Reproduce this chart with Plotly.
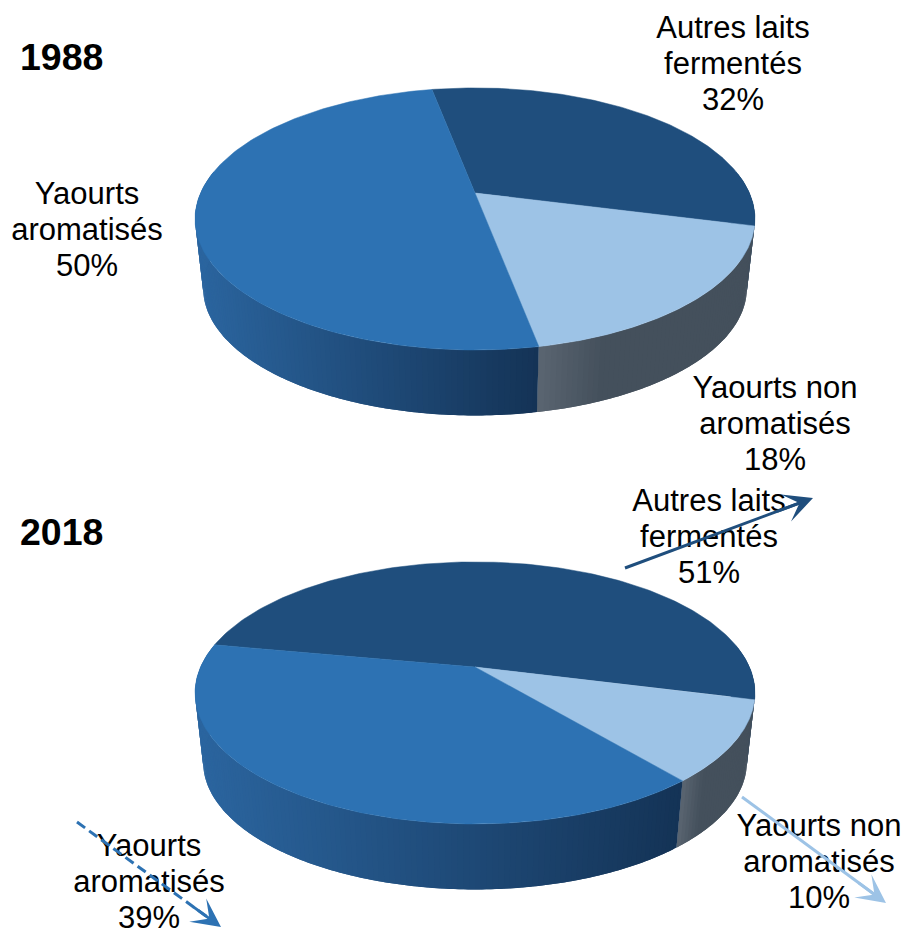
import numpy as np
import plotly.graph_objects as go

# --- data ---
years = ["1988", "2018"]
categories = ["Autres laits fermentés", "Yaourts non aromatisés", "Yaourts aromatisés"]
shares_1988 = [32, 18, 50]
shares_2018 = [51, 10, 39]
first_slice_angle_1988 = -10.8
first_slice_angle_2018 = -79.5

label_lines_1988 = [["Autres laits", "fermentés", "32%"],
                    ["Yaourts non", "aromatisés", "18%"],
                    ["Yaourts", "aromatisés", "50%"]]
label_lines_2018 = [["Autres laits", "fermentés", "51%"],
                    ["Yaourts non", "aromatisés", "10%"],
                    ["Yaourts", "aromatisés", "39%"]]

# --- style and layout ---
W, H = 908, 929
top_colors = ["#1f4e7d", "#9dc3e6", "#2d72b3"]
slice_order_back_to_front = [0, 1, 2]
wall_ramps = [((0x1f, 0x4e, 0x7d), (0x16, 0x38, 0x5c)),
              ((0x5a, 0x65, 0x71), (0x44, 0x50, 0x5c)),
              ((0x2b, 0x65, 0x9f), (0x14, 0x33, 0x56))]
wall_ramp_span = [1.0, 0.3, 1.0]   # share of the visible wall over which the shade changes
arrow_colors = ["#1f4e7d", "#9dc3e6", "#2d72b3"]
FONT = "Liberation Sans, Arial, sans-serif"
LABEL_SIZE = 31
TITLE_SIZE = 37.5
LINE_STEP = 35.7

CX = 475
VERTEX_Y = {"1988": 193, "2018": 667}
K = 0.198            # perspective strength of the tilted disc
A = 125.9            # vertical scale
B = 274.4            # horizontal scale
BOTTOM_SCALE = 0.971
BOTTOM_DROP = 70

label_pos = {"1988": [(733, 30.5), (775, 390.5), (87, 196.5)],
             "2018": [(709, 503.5), (819, 828.5), (149, 848.5)]}
title_pos = {"1988": (20, 61), "2018": (20, 536)}
arrows_2018 = [((625, 568), (813, 498)), ((742, 797), (886, 903)), ((77, 822), (221, 927))]


def project(theta_deg, cy, scale=1.0, drop=0.0):
    t = np.radians(theta_deg)
    u, v = np.sin(t), -np.cos(t)
    d = 1 - K * v
    return CX + scale * B * u / d, cy + drop + scale * A * v / d


def mix(c0, c1, t):
    return "rgb(%d,%d,%d)" % tuple(round(a + (b - a) * t) for a, b in zip(c0, c1))


fig = go.Figure()


def add_pie(year, shares, start):
    cy = VERTEX_Y[year]
    edges = start + np.concatenate([[0], np.cumsum(shares)]) * 3.6
    # side wall, built of narrow bands so that it shades from left to right
    for i in slice_order_back_to_front:
        a0, a1 = edges[i], edges[i + 1]
        grid = np.arange(80, 281, 1.0)
        for shift in (-360, 0, 360):
            lo, hi = max(a0, 80 + shift), min(a1, 280 + shift)
            if hi <= lo:
                continue
            marks = np.unique(np.concatenate([[lo, hi], grid[(grid + shift > lo) & (grid + shift < hi)] + shift]))
            x_all = project(marks, cy)[0]
            x_lo, x_hi = x_all.min(), x_all.max()
            # paint from the low angle side on; each band runs on under the next one
            for m0, m1 in zip(marks[:-1], marks[1:]):
                seg = np.linspace(m0, min(m1 + 1.0, hi), 4)
                xt, yt = project(seg, cy)
                xb, yb = project(seg[::-1], cy, BOTTOM_SCALE, BOTTOM_DROP)
                t = (project(m0 / 2 + m1 / 2, cy)[0] - x_lo) / max(x_hi - x_lo, 1)
                ramp_t = min(t / wall_ramp_span[i], 1.0)
                col = mix(*wall_ramps[i], ramp_t)
                fig.add_trace(go.Scatter(x=np.r_[xt, xb, xt[0]], y=np.r_[yt, yb, yt[0]],
                                         mode="none", fill="toself", fillcolor=col,
                                         hoverinfo="skip", showlegend=False))
    # top face
    for i in slice_order_back_to_front:
        seg = np.linspace(edges[i], edges[i + 1], 160)
        xr, yr = project(seg, cy)
        fig.add_trace(go.Scatter(x=np.r_[CX, xr, CX], y=np.r_[cy, yr, cy],
                                 mode="lines", fill="toself", fillcolor=top_colors[i],
                                 line=dict(color=top_colors[i], width=0.5),
                                 name=categories[i], hoverinfo="skip", showlegend=False))


add_pie("1988", shares_1988, first_slice_angle_1988)
add_pie("2018", shares_2018, first_slice_angle_2018)

# labels
for year, lines in (("1988", label_lines_1988), ("2018", label_lines_2018)):
    for (lx, ly), group in zip(label_pos[year], lines):
        fig.add_trace(go.Scatter(x=[lx] * 3, y=[ly + n * LINE_STEP for n in range(3)], text=group,
                                 mode="text", textposition="middle center",
                                 textfont=dict(family=FONT, size=LABEL_SIZE, color="#000000"),
                                 hoverinfo="skip", showlegend=False))
    tx, ty = title_pos[year]
    fig.add_trace(go.Scatter(x=[tx], y=[ty], text=["<b>%s</b>" % year], mode="text",
                             textposition="middle right",
                             textfont=dict(family=FONT, size=TITLE_SIZE, color="#000000"),
                             hoverinfo="skip", showlegend=False))

# leader arrows of the 2018 pie
dash_styles = ["solid", "solid", "dash"]
annotations = []
for ((x0, y0), (x1, y1)), col, dash in zip(arrows_2018, arrow_colors, dash_styles):
    fig.add_trace(go.Scatter(x=[x0, x0 + (x1 - x0) * 0.93], y=[y0, y0 + (y1 - y0) * 0.93], mode="lines",
                             line=dict(color=col, width=3, dash="10px,5px" if dash == "dash" else "solid"),
                             hoverinfo="skip", showlegend=False))
    annotations.append(dict(x=x1, y=y1, ax=x0 + (x1 - x0) * 0.8, ay=y0 + (y1 - y0) * 0.8,
                            xref="x", yref="y", axref="x", ayref="y", text="", showarrow=True,
                            arrowhead=3, arrowsize=1.6, arrowwidth=3, arrowcolor=col))

fig.update_layout(width=W, height=H, margin=dict(l=0, r=0, t=0, b=0),
                  paper_bgcolor="#ffffff", plot_bgcolor="#ffffff",
                  xaxis=dict(range=[0, W], visible=False, fixedrange=True),
                  yaxis=dict(range=[H, 0], visible=False, fixedrange=True),
                  showlegend=False, annotations=annotations, hovermode=False)

fig.write_html("out.html", config=dict(displayModeBar=False),
               post_script="document.body.style.margin='0';document.documentElement.style.overflow='hidden';")
